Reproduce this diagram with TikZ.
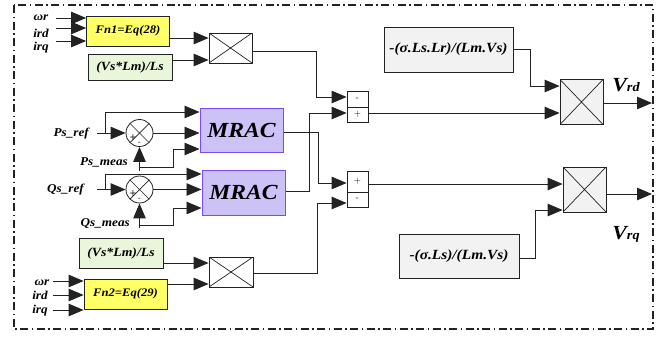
\documentclass[tikz,border=0pt]{standalone}
\usepackage{fontspec}
\setmainfont[FakeStretch=1.1]{Liberation Serif}
\usetikzlibrary{arrows.meta}
\definecolor{fnyellow}{HTML}{FFFF66}
\definecolor{gaingreen}{HTML}{EAF6DA}
\definecolor{gaingray}{HTML}{F2F2F2}
\definecolor{mracfill}{HTML}{CCC2F5}
\definecolor{mracdraw}{HTML}{7B4CF5}
\definecolor{wire}{HTML}{222222}
\tikzset{
  blk/.style={draw=wire, line width=0.8pt, inner sep=0pt, align=center},
  fnbox/.style={blk, fill=fnyellow, minimum width=83pt, minimum height=30pt, font=\bfseries\itshape\fontsize{11.5}{13}\selectfont},
  grbox/.style={blk, fill=gaingreen, minimum width=84pt, font=\bfseries\itshape\fontsize{12.5}{14}\selectfont},
  kbox/.style={blk, fill=gaingray, minimum height=44pt, font=\bfseries\itshape\fontsize{14}{16}\selectfont},
  mrac/.style={draw=mracdraw, line width=1pt, fill=mracfill, minimum width=83pt, minimum height=44pt, inner sep=0pt, font=\bfseries\itshape\fontsize{21.5}{24}\selectfont},
  prodbox/.style={blk, fill=#1, minimum width=43pt,
    path picture={\draw[wire, line width=0.7pt] (path picture bounding box.north west) -- (path picture bounding box.south east)
      (path picture bounding box.south west) -- (path picture bounding box.north east);}},
  sumbox/.style={blk, fill=white, minimum width=21pt, font=\normalfont\sffamily\fontsize{9}{10}\selectfont},
  sumcirc/.style={circle, draw=wire, line width=0.8pt, fill=white, minimum size=27pt, inner sep=0pt,
    path picture={\draw[wire, line width=0.7pt] (path picture bounding box.north west) -- (path picture bounding box.south east)
      (path picture bounding box.south west) -- (path picture bounding box.north east);}},
  sgn/.style={inner sep=0pt, font=\normalfont\sffamily\bfseries\fontsize{8}{9}\selectfont},
  lbl/.style={inner sep=0pt, font=\bfseries\itshape\fontsize{12}{14}\selectfont},
  arr/.style={draw=wire, line width=0.9pt, -{Triangle[length=15pt,width=12.5pt]}},
  ln/.style={draw=wire, line width=0.9pt},
  frame/.style={draw=wire, line width=1.1pt, dash pattern=on 8pt off 3.5pt on 1.5pt off 3.5pt}
}
\begin{document}
\begin{tikzpicture}[x=1pt,y=-1pt]
\useasboundingbox (0,0) rectangle (669,338);
\draw[frame] (14,5) rectangle (653,329);

% blocks
\node[fnbox] (fn1) at (128,31) {Fn1=Eq(28)};
\node[grbox, minimum height=26pt] (g1) at (130,67) {(Vs*Lm)/Ls};
\node[prodbox=white, minimum height=30pt] (p1) at (230.5,48) {};
\node[mrac] (m1) at (241.5,130) {MRAC};
\node[mrac, minimum height=45pt] (m2) at (243.5,192.5) {MRAC};
\node[sumbox, minimum height=16pt] (s1a) at (357.5,99) {-};
\node[sumbox, minimum height=15pt] (s1b) at (357.5,114.5) {+};
\node[sumbox, minimum height=21pt] (s2a) at (357.5,181.5) {+};
\node[sumbox, minimum height=15pt] (s2b) at (357.5,199.5) {-};
\node[kbox, minimum width=129pt, minimum height=45pt] (kd) at (448.5,49.5) {-(σ.Ls.Lr)/(Lm.Vs)};
\node[kbox, minimum width=120pt] (kq) at (459,256) {-(σ.Ls)/(Lm.Vs)};
\node[prodbox=gaingray, minimum height=45pt] (p2) at (581.5,102) {};
\node[prodbox=gaingray, minimum height=45pt] (p3) at (584.5,189.5) {};
\node[grbox, minimum height=30pt] (g2) at (121,253) {(Vs*Lm)/Ls};
\node[prodbox=white, minimum width=44pt, minimum height=30pt] (p4) at (231,272) {};
\node[fnbox] (fn2) at (125.5,294) {Fn2=Eq(29)};
\node[sumcirc] (c1) at (139.5,133) {};
\node[sumcirc] (c2) at (139.5,189.5) {};
\node[sgn] (c1p) at (133,137) {+};
\node[sgn] (c1m) at (139.5,143) {-};
\node[sgn] (c2p) at (133,193.5) {+};
\node[sgn] (c2m) at (139.5,199.5) {-};

% labels
\node[lbl, anchor=base] (lw1) at (41,20) {ωr};
\node[lbl, anchor=base] (ld1) at (41,37) {ird};
\node[lbl, anchor=base] (lq1) at (41,50) {irq};
\node[lbl, anchor=base] (lw2) at (42,285) {ωr};
\node[lbl, anchor=base] (ld2) at (40,299) {ird};
\node[lbl, anchor=base] (lq2) at (40,313) {irq};
\node[lbl, anchor=base east] (lpr) at (89,136) {Ps\_ref};
\node[lbl, anchor=base east] (lqr) at (84,192) {Qs\_ref};
\node[lbl, anchor=base east] (lpm) at (128,165) {Ps\_meas};
\node[lbl, anchor=base east] (lqm) at (130,226) {Qs\_meas};
\node[inner sep=0pt, anchor=base, font=\bfseries\itshape] (lvd) at (626,91) {{\fontsize{20}{22}\selectfont V}{\fontsize{13}{15}\selectfont rd}};
\node[inner sep=0pt, anchor=base, font=\bfseries\itshape] (lvq) at (626,239) {{\fontsize{20}{22}\selectfont V}{\fontsize{13}{15}\selectfont rq}};

% free ends
\coordinate (w1) at (56,18); \coordinate (d1) at (56,28); \coordinate (q1) at (56,41);
\coordinate (w2) at (53,281); \coordinate (d2) at (53,295); \coordinate (q2) at (53,310);
\coordinate (pr) at (97,133); \coordinate (qr) at (97,189.5);
\coordinate (pm) at (139.5,171); \coordinate (qm) at (139.5,228);
\coordinate (od) at (652,103); \coordinate (oq) at (652,194);

% inputs to Fn blocks
\draw[arr] (w1) -- (fn1.west |- w1);
\draw[arr] (d1) -- (fn1.west |- d1);
\draw[arr] (q1) -- (fn1.west |- q1);
\draw[arr] (w2) -- (fn2.west |- w2);
\draw[arr] (d2) -- (fn2.west |- d2);
\draw[arr] (q2) -- (fn2.west |- q2);

% top branch
\draw[arr] (fn1.east |- 0,38) -- (p1.west |- 0,38);
\draw[arr] (g1.east |- 0,60) -- (p1.west |- 0,60);
\draw[arr] (p1.east |- 0,51) -- (316,51) -- (316,97) -- (s1a.west |- 0,97);

% bottom branch
\draw[arr] (g2.east |- 0,263) -- (p4.west |- 0,263);
\draw[arr] (fn2.east |- 0,284) -- (p4.west |- 0,284);
\draw[arr] (p4.east |- 0,273) -- (317,273) -- (317,203) -- (s2b.west |- 0,203);

% P loop
\draw[arr] (pr) -- (c1.west);
\draw[arr] (105,133) -- (105,112) -- (m1.west |- 0,112);
\draw[arr] (c1.east) -- (m1.west |- c1.east);
\draw[arr] (pm) -- (c1.south);
\draw[arr] (139.5,167) -- (173,167) -- (173,149) -- (m1.west |- 0,149);

% Q loop
\draw[arr] (qr) -- (c2.west);
\draw[arr] (105,189.5) -- (105,174) -- (m2.west |- 0,174);
\draw[arr] (c2.east) -- (m2.west |- c2.east);
\draw[arr] (qm) -- (c2.south);
\draw[arr] (139.5,225) -- (173,225) -- (173,208) -- (m2.west |- 0,208);

% MRAC outputs (crossing)
\draw[arr] (m1.east |- 0,132) -- (318,132) -- (318,183) -- (s2a.west |- 0,183);
\draw[arr] (m2.east |- 0,191) -- (309,191) -- (309,113) -- (s1b.west |- 0,113);

% to output products
\draw[arr] (s1b.east |- 0,113) -- (p2.west |- 0,113);
\draw[arr] (kd.east |- 0,49) -- (530,49) -- (530,86) -- (p2.west |- 0,86);
\draw[arr] (p2.east |- od) -- (od);
\draw[arr] (s2a.east |- 0,184) -- (p3.west |- 0,184);
\draw[arr] (kq.east |- 0,258) -- (535,258) -- (535,210) -- (p3.west |- 0,210);
\draw[arr] (p3.east |- oq) -- (oq);
\end{tikzpicture}
\end{document}
